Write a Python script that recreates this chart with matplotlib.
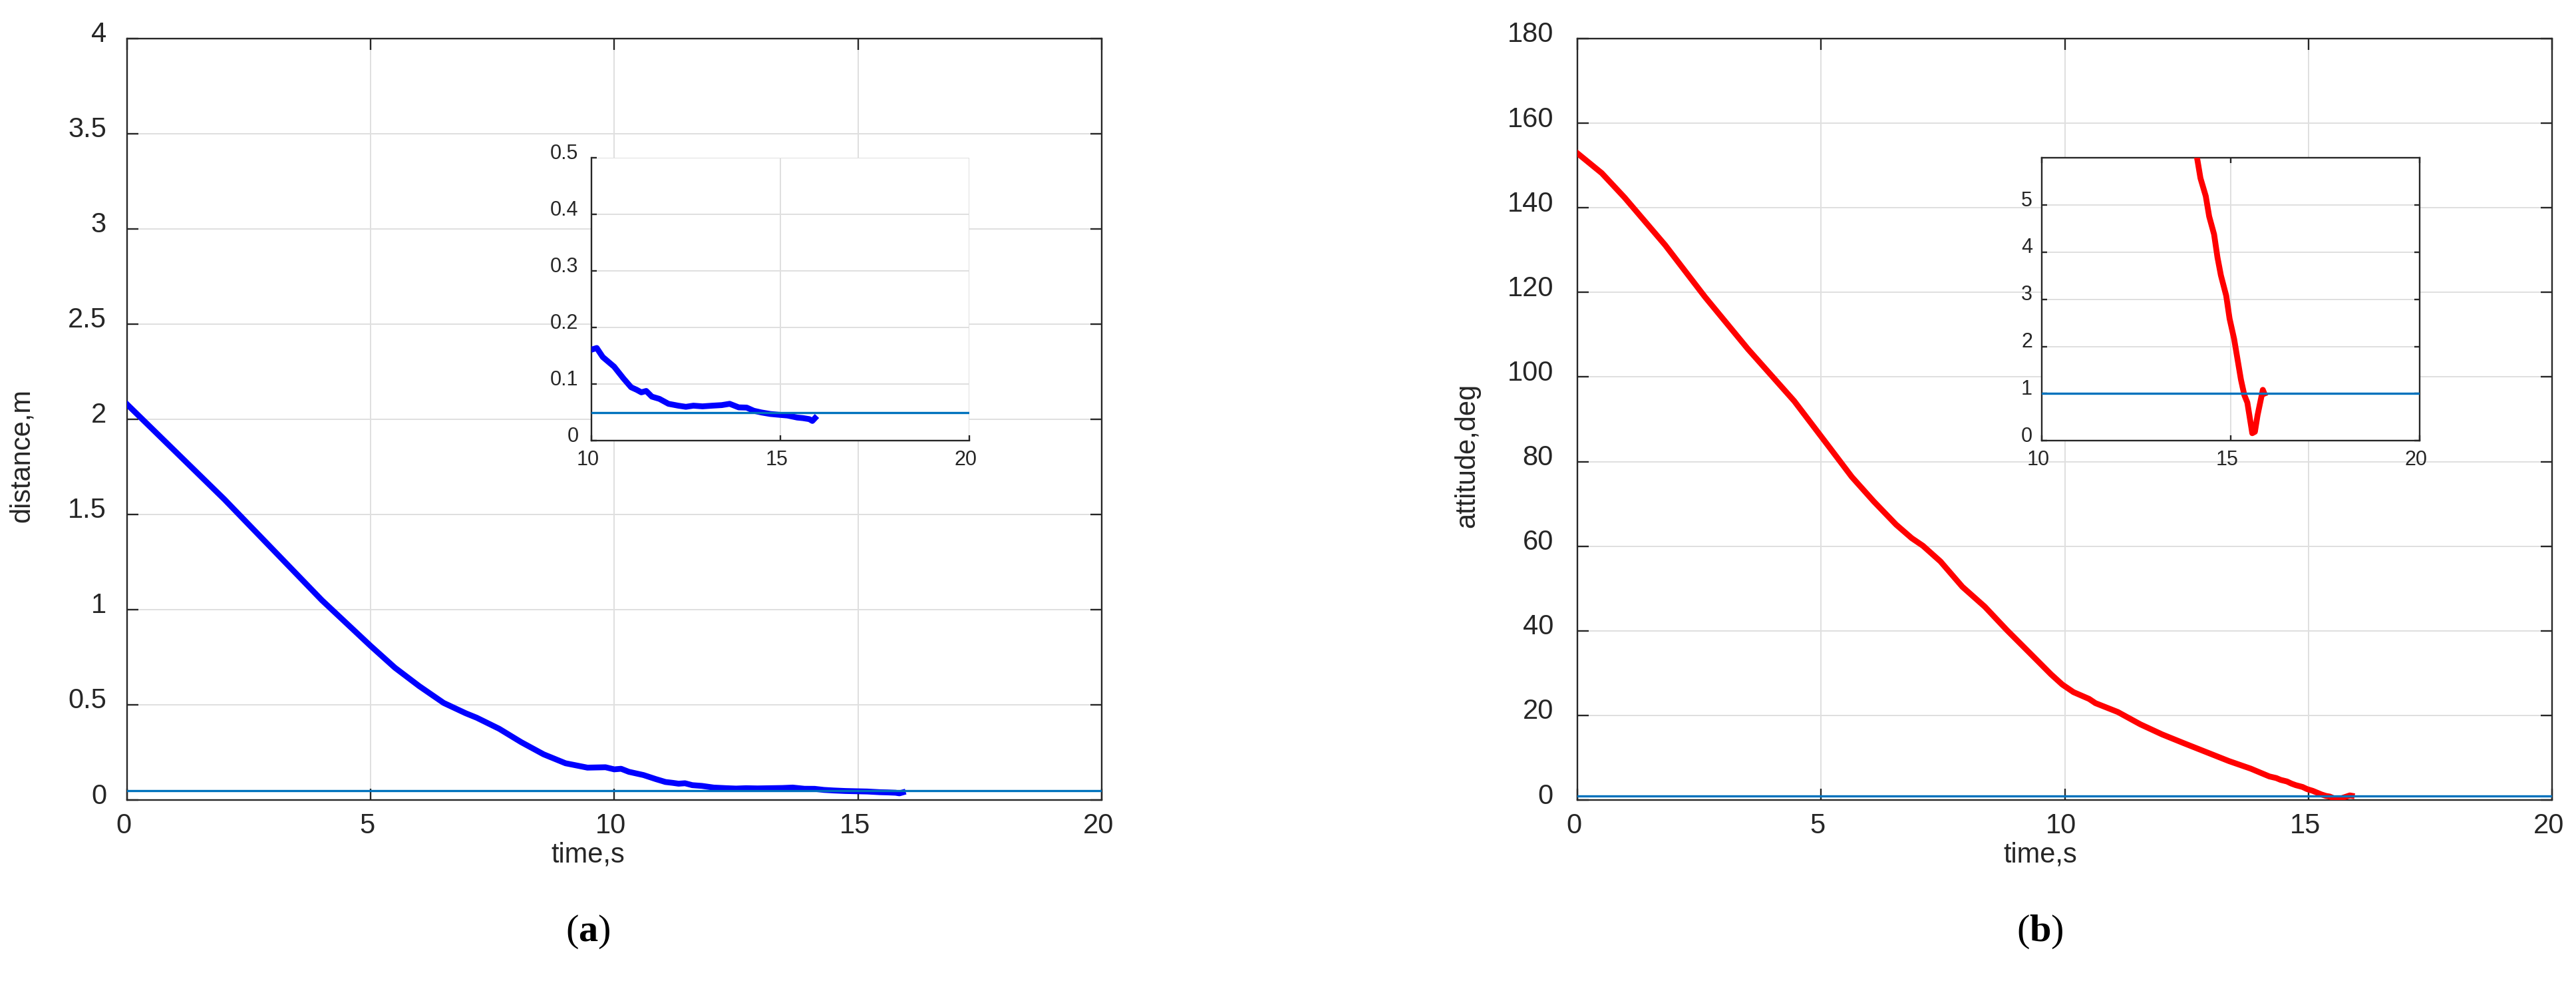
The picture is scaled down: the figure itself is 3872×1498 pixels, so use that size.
import matplotlib
matplotlib.use("Agg")
import matplotlib.pyplot as plt
from matplotlib.transforms import ScaledTranslation

plt.rcParams['font.family'] = ['Liberation Sans', 'DejaVu Sans']
plt.rcParams['mathtext.fontset'] = 'custom'
plt.rcParams['mathtext.rm'] = 'Liberation Serif'
plt.rcParams['mathtext.bf'] = 'Liberation Serif:bold'

# ---------------- data ----------------
dist_t = [0.0, 1.0, 2.0, 3.0, 4.0, 4.5, 5.0, 5.5, 6.0, 6.5, 6.95, 7.18, 7.64,
          8.09, 8.55, 9.0, 9.45, 9.82, 10.0, 10.14, 10.3, 10.6, 10.85, 11.05, 11.2,
          11.32, 11.45, 11.6, 11.8, 12.04, 12.3, 12.5, 12.7, 12.94, 13.2, 13.45,
          13.66, 13.9, 14.11, 14.3, 14.5, 14.74, 14.95, 15.19, 15.45, 15.6, 15.77,
          15.85, 15.92]
dist_v = [2.08, 1.83, 1.58, 1.315, 1.05, 0.93, 0.81, 0.695, 0.598, 0.51, 0.456,
          0.432, 0.374, 0.304, 0.240, 0.193, 0.170, 0.172, 0.161, 0.164, 0.148, 0.131,
          0.110, 0.0946, 0.090, 0.0856, 0.088, 0.078, 0.074, 0.0653, 0.062, 0.060,
          0.062, 0.0608, 0.062, 0.063, 0.0653, 0.059, 0.0586, 0.053, 0.050, 0.0473,
          0.046, 0.0446, 0.041, 0.040, 0.0382, 0.035, 0.040]
dist_threshold = 0.05

att_t = [0.0, 0.5, 0.97, 1.8, 2.62, 3.5, 4.45, 5.17, 5.63, 6.08, 6.54, 6.86, 7.09,
         7.45, 7.9, 8.36, 8.81, 9.27, 9.72, 9.95, 10.18, 10.5, 10.63, 11.09, 11.55,
         12.0, 12.45, 12.91, 13.37, 13.82, 14.11, 14.2, 14.34, 14.43, 14.56, 14.65,
         14.74, 14.88, 14.97, 15.09, 15.18, 15.27, 15.36, 15.44, 15.51, 15.57, 15.64,
         15.71, 15.78, 15.85, 15.89]
att_v = [152.9, 148.2, 142.4, 131.2, 118.9, 106.6, 94.3, 83.4, 76.4, 70.6, 65.1, 61.9,
         60.1, 56.4, 50.4, 45.7, 40.2, 34.9, 29.7, 27.3, 25.5, 23.9, 22.9, 20.8, 17.9,
         15.5, 13.4, 11.3, 9.2, 7.4, 6.0, 5.57, 5.19, 4.76, 4.38, 3.89, 3.51, 3.08,
         2.59, 2.16, 1.73, 1.30, 0.97, 0.81, 0.46, 0.16, 0.19, 0.54, 0.81, 1.08, 1.0]
att_threshold = 1.0

x_ticks = [0, 5, 10, 15, 20]
dist_yticks = [0, 0.5, 1, 1.5, 2, 2.5, 3, 3.5, 4]
dist_yticklabels = ['0', '0.5', '1', '1.5', '2', '2.5', '3', '3.5', '4']
att_yticks = [0, 20, 40, 60, 80, 100, 120, 140, 160, 180]
inset_xticks = [10, 15, 20]
dist_inset_yticks = [0, 0.1, 0.2, 0.3, 0.4, 0.5]
dist_inset_yticklabels = ['0', '0.1', '0.2', '0.3', '0.4', '0.5']
att_inset_yticks = [0, 1, 2, 3, 4, 5]

# ---------------- styling ----------------
W, H = 3872, 1498
fig = plt.figure(figsize=(W / 100, H / 100), dpi=100)
fig.patch.set_facecolor('white')

DARK = '#262626'
GRID = '#DFDFDF'
THR = '#0072BD'


def frac(x0, y0, x1, y1):
    return [x0 / W, 1 - y1 / H, (x1 - x0) / W, (y1 - y0) / H]


def style(ax, fs, ticklen, pad_x, pad_y, box=True):
    for side, sp in ax.spines.items():
        sp.set_color(DARK)
        sp.set_linewidth(1.7)
    if not box:
        ax.spines['top'].set_visible(False)
        ax.spines['right'].set_visible(False)
    ax.grid(True, color=GRID, linewidth=1.4)
    ax.set_axisbelow(True)
    ax.tick_params(axis='both', direction='in', length=ticklen, width=1.7,
                   color=DARK, labelcolor=DARK, labelsize=fs,
                   top=box, right=box)
    ax.tick_params(axis='x', pad=pad_x)
    ax.tick_params(axis='y', pad=pad_y)


def shift_labels(ax, dx_px, dy_px, axis='y'):
    off = ScaledTranslation(dx_px / 100, dy_px / 100, fig.dpi_scale_trans)
    labs = ax.get_yticklabels() if axis == 'y' else ax.get_xticklabels()
    for lab in labs:
        lab.set_transform(lab.get_transform() + off)


# ---------------- left main ----------------
axL = fig.add_axes(frac(190.6, 58, 1656, 1202))
axL.plot(dist_t, dist_v, color=(0, 0, 1), lw=6.3, solid_joinstyle='round', zorder=3)
axL.axhline(dist_threshold, color=THR, lw=2.4, zorder=4)
axL.set_xlim(0, 20)
axL.set_ylim(0, 4)
axL.set_xticks(x_ticks)
axL.set_yticks(dist_yticks)
axL.set_yticklabels(dist_yticklabels)
style(axL, 30, 12, 14, 22)
axL.set_xlabel('time,s', fontsize=30, color=DARK)
axL.set_ylabel('distance,m', fontsize=30, color=DARK)
axL.xaxis.set_label_coords(0.473, -0.0717)
axL.xaxis.label.set_va('center')
axL.yaxis.set_label_coords(-0.108, 0.452)
axL.yaxis.label.set_va('center')
shift_labels(axL, 0, 10, 'y')
shift_labels(axL, -5, 0, 'x')

# ---------------- left inset ----------------
axLi = fig.add_axes(frac(889, 237.4, 1456.6, 662.2))
axLi.set_facecolor('white')
axLi.plot(dist_t, dist_v, color=(0, 0, 1), lw=6.3, solid_joinstyle='round', zorder=3)
axLi.axhline(dist_threshold, color=THR, lw=2.4, zorder=4)
axLi.set_xlim(10, 20)
axLi.set_ylim(0, 0.5)
axLi.set_xticks(inset_xticks)
axLi.set_yticks(dist_inset_yticks)
axLi.set_yticklabels(dist_inset_yticklabels)
style(axLi, 22, 5.5, 10, 14, box=False)
shift_labels(axLi, 0, 10, 'y')
shift_labels(axLi, -5, 0, 'x')

# ---------------- right main ----------------
axR = fig.add_axes(frac(2371, 58, 3836, 1202))
axR.plot(att_t, att_v, color=(1, 0, 0), lw=6.3, solid_joinstyle='round', zorder=3)
axR.axhline(att_threshold, color=THR, lw=2.4, zorder=4)
axR.set_xlim(0, 20)
axR.set_ylim(0, 180)
axR.set_xticks(x_ticks)
axR.set_yticks(att_yticks)
style(axR, 30, 12, 14, 26)
axR.set_xlabel('time,s', fontsize=30, color=DARK)
axR.set_ylabel('attitude,deg', fontsize=30, color=DARK)
axR.xaxis.set_label_coords(0.475, -0.0717)
axR.xaxis.label.set_va('center')
axR.yaxis.set_label_coords(-0.113, 0.452)
axR.yaxis.label.set_va('center')
shift_labels(axR, 0, 10, 'y')
shift_labels(axR, -5, 0, 'x')

# ---------------- right inset ----------------
axRi = fig.add_axes(frac(3069, 237.4, 3637, 662.2))
axRi.set_facecolor('white')
axRi.plot(att_t, att_v, color=(1, 0, 0), lw=6.3, solid_joinstyle='round', zorder=3)
axRi.axhline(att_threshold, color=THR, lw=2.4, zorder=4)
axRi.set_xlim(10, 20)
axRi.set_ylim(0, 6)
axRi.set_xticks(inset_xticks)
axRi.set_yticks(att_inset_yticks)
style(axRi, 22, 5.5, 10, 10, box=True)
shift_labels(axRi, 0, 10, 'y')
shift_labels(axRi, -5, 0, 'x')

# ---------------- panel captions ----------------
fig.text(884 / W, 1 - 1400 / H, r'$\mathrm{(}\mathbf{a}\mathrm{)}$', fontsize=42,
         ha='center', va='center', color='black')
fig.text(3066 / W, 1 - 1400 / H, r'$\mathrm{(}\mathbf{b}\mathrm{)}$', fontsize=42,
         ha='center', va='center', color='black')

fig.savefig('out.png', dpi=100, facecolor='white')
